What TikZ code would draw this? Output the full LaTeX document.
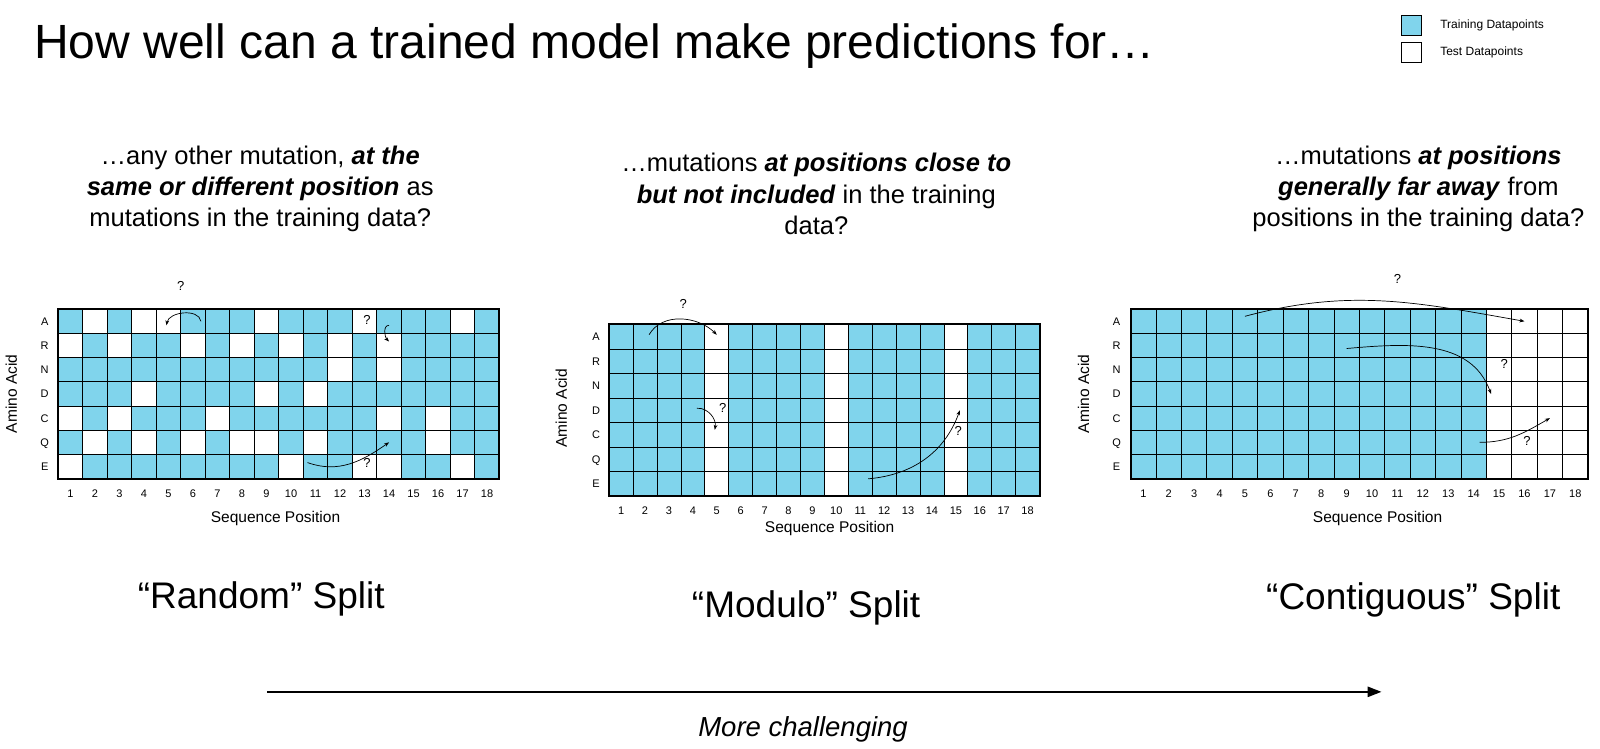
\documentclass[tikz,border=0pt]{standalone}
\usepackage{fontspec}
\setmainfont{Liberation Sans}
\usetikzlibrary{arrows.meta}
\definecolor{trainblue}{HTML}{80D4EC}
\tikzset{
  train/.style={fill=trainblue},
  gridline/.style={line width=0.8pt},
  frame/.style={line width=2pt},
  lbl/.style={font=\fontsize{11}{13}\selectfont,text height=8pt,text depth=0pt},
  axis/.style={font=\fontsize{15.5}{18}\selectfont},
  key/.style={font=\fontsize{12}{14}\selectfont},
  ask/.style={-{Stealth[length=5pt]},line width=0.7pt},
  qm/.style={font=\fontsize{13}{15}\selectfont},
  head/.style={align=center,font=\fontsize{25.5}{31}\selectfont},
  split/.style={font=\fontsize{37}{42}\selectfont},
}
\newcommand{\seqlines}{%
  \foreach \i in {1,...,17} \draw[gridline] (\i,0) -- (\i,7);
  \foreach \j in {1,...,6} \draw[gridline] (0,\j) -- (18,\j);
  \draw[frame] (0,0) rectangle (18,7);
}
\newcommand{\seqgrid}[1]{%
  \fill[train] (0,0) rectangle (18,7);
  \foreach \c/\r in {#1} \fill[white] (\c-1,\r-1) rectangle ++(1,1);
  \seqlines
}
\newcommand{\seqlabels}[1]{%
  \foreach \a [count=\r] in {A,R,N,D,C,Q,E}
    \node[lbl] (#1-a\r) at (-0.55,\r-0.5) {\a};
  \foreach \c in {1,...,18}
    \node[lbl] (#1-n\c) at (\c-0.5,7.6) {\c};
  \foreach \c in {1,...,18}
    \foreach \r in {1,...,7}
      \coordinate (#1\c-\r) at (\c-0.5,\r-0.5);
}
\begin{document}
\begin{tikzpicture}[x=1.02pt,y=-1.02pt]
  \useasboundingbox (0,0) rectangle (1568,734);
  % title and legend
  \node[anchor=west,font=\fontsize{48}{54}\selectfont] (title) at (30,45) {How well can a trained model make predictions for…};
  \node[train,draw,minimum size=20pt,inner sep=0pt] (keytrain) at (1383,25) {};
  \node[draw,minimum size=20pt,inner sep=0pt] (keytest) at (1383,51) {};
  \node[key,anchor=west] (keytraintxt) at (1408,25) {Training Datapoints};
  \node[key,anchor=west] (keytesttxt) at (1408,51) {Test Datapoints};
  % questions
  \node[head] (qrandom) at (255,185) {…any other mutation, \textbf{\textit{at the}}\\\textbf{\textit{same or different position}} as\\mutations in the training data?};
  \node[head] (qmodulo) at (800,190) {…mutations \textbf{\textit{at positions close to}}\\\textbf{\textit{but not included}} in the training\\data?};
  \node[head] (qcontig) at (1390,185) {…mutations \textbf{\textit{at positions}}\\\textbf{\textit{generally far away}} from\\positions in the training data?};
  % random split
  \begin{scope}[shift={(57,303)},x=24.5pt,y=-24.2pt]
    \seqgrid{2/1,4/1,5/1,9/1,13/1,17/1,1/2,3/2,6/2,8/2,10/2,12/2,14/2,12/3,14/3,4/4,9/4,11/4,1/5,3/5,7/5,14/5,16/5,2/6,4/6,6/6,8/6,9/6,11/6,16/6,1/7,10/7,13/7,14/7,17/7}
    \seqlabels{L}
    \node[qm] (L-q1) at (5,-0.95) {?};
    \node[qm] (L-q2) at (12.6,0.45) {?};
    \node[qm] (L-q3) at (12.6,6.35) {?};
  \end{scope}
  \draw[ask] ([shift={(8pt,0pt)}]L6-1) to[out=100,in=80] ([shift={(-2pt,-4pt)}]L5-1);
  \draw[ask] ([shift={(0pt,-4pt)}]L14-1) to[out=180,in=135] ([shift={(0pt,4pt)}]L14-2);
  \draw[ask] ([shift={(-8pt,4pt)}]L11-7) to[out=-20,in=215] (L14-6);
  % modulo split
  \begin{scope}[shift={(597,318)},x=23.9pt,y=-24.5pt]
    \seqgrid{5/1,5/2,5/3,5/4,5/5,5/6,5/7,10/1,10/2,10/3,10/4,10/5,10/6,10/7,15/1,15/2,15/3,15/4,15/5,15/6,15/7}
    \seqlabels{M}
    \node[qm] (M-q1) at (3.1,-0.85) {?};
    \node[qm] (M-q2) at (4.75,3.4) {?};
    \node[qm] (M-q3) at (14.6,4.35) {?};
  \end{scope}
  \draw[ask] ([shift={(4pt,2pt)}]M2-1) to[out=60,in=135] ([shift={(0pt,2pt)}]M5-1);
  \draw[ask] ([shift={(4pt,2pt)}]M4-4) to[out=5,in=80] ([shift={(-2pt,5pt)}]M5-5);
  \draw[ask] ([shift={(8pt,5pt)}]M11-7) to[out=5,in=250] ([shift={(4pt,0pt)}]M15-4);
  % contiguous split
  \begin{scope}[shift={(1108,303)},x=25.4pt,y=-24.2pt]
    \fill[train] (0,0) rectangle (14,7);
    \seqlines
    \seqlabels{R}
    \node[qm] (R-q1) at (10.5,-1.25) {?};
    \node[qm] (R-q2) at (14.7,2.25) {?};
    \node[qm] (R-q3) at (15.6,5.45) {?};
  \end{scope}
  \draw[ask] ([shift={(0pt,5pt)}]R5-1) to[out=15,in=170] (R16-1);
  \draw[ask] ([shift={(0pt,-3pt)}]R9-2) to[out=5,in=110] ([shift={(-8pt,0pt)}]R15-4);
  \draw[ask] ([shift={(6pt,0pt)}]R14-6) to[out=0,in=210] (R17-5);
  % axis titles
  \node[axis] (L-x) at (270,508) {Sequence Position};
  \node[axis,rotate=90] (L-y) at (11,386) {Amino Acid};
  \node[axis] (M-x) at (813,518) {Sequence Position};
  \node[axis,rotate=90] (M-y) at (550,400) {Amino Acid};
  \node[axis] (R-x) at (1350,508) {Sequence Position};
  \node[axis,rotate=90] (R-y) at (1062,386) {Amino Acid};
  % split names
  \node[split] (srandom) at (256,587) {“Random” Split};
  \node[split] (smodulo) at (790,596) {“Modulo” Split};
  \node[split] (scontig) at (1385,588) {“Contiguous” Split};
  % difficulty
  \coordinate (easy) at (262,678);
  \coordinate (hard) at (1354,678);
  \draw[-{Triangle[length=14pt,width=10pt]},line width=2.5pt] (easy) -- (hard);
  \node[font=\fontsize{27.5}{32}\selectfont\itshape] (harder) at (787,715) {More challenging};
\end{tikzpicture}
\end{document}
